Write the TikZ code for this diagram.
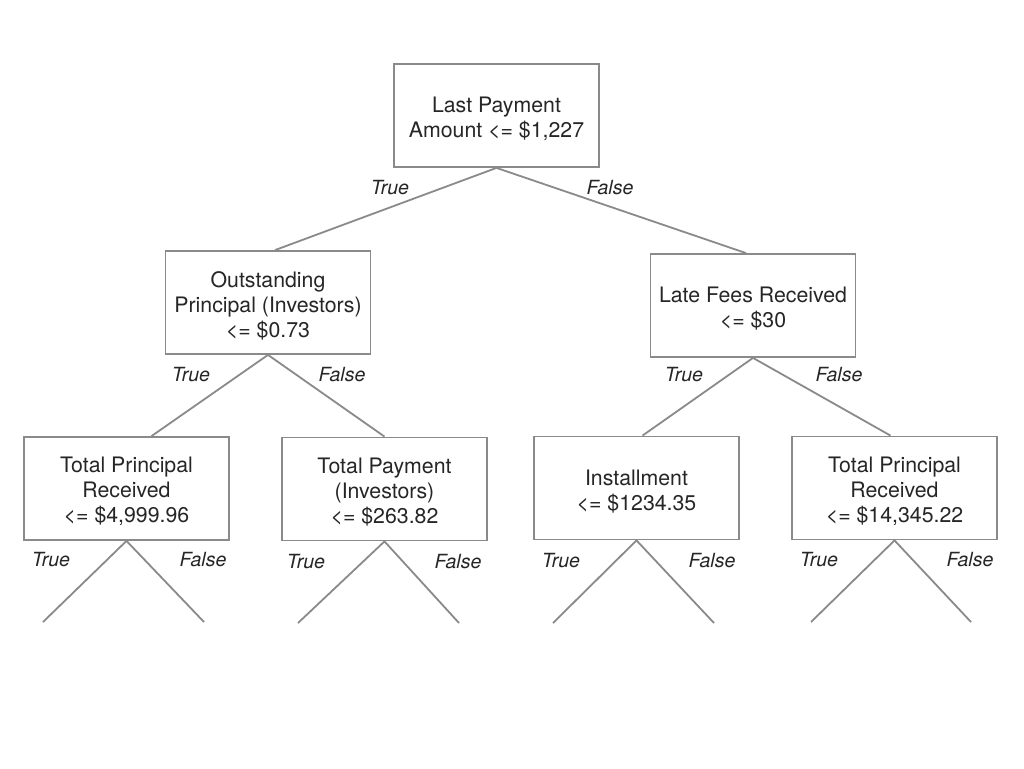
\documentclass[tikz,border=0pt]{standalone}
\usepackage{fontspec}
\setmainfont{TeX Gyre Heros}
\definecolor{linegray}{HTML}{8A8A8A}
\newcommand\topfix{\rule{0pt}{22pt}}
\begin{document}
\begin{tikzpicture}[x=1pt,y=-1pt,
  treebox/.style={draw=linegray,line width=1.8pt,minimum width=205pt,minimum height=103pt,
    align=center,inner sep=0pt,font=\fontsize{21.3}{25}\selectfont,text=black!85},
  branch/.style={draw=linegray,line width=1.8pt},
  lbl/.style={font=\fontsize{19.5}{22}\selectfont\itshape,text=black!85,inner sep=0pt}]
\useasboundingbox (0,0) rectangle (1024,768);
\fill[white] (0,0) rectangle (1024,768);
% boxes
\node[treebox] (root) at (496.5,115.5) {\topfix Last Payment\\Amount <= \$1,227};
\node[treebox] (lm) at (268,302.5) {\topfix Outstanding\\Principal (Investors)\\<= \$0.73};
\node[treebox] (rm) at (753,305.5) {\topfix Late Fees Received\\<= \$30};
\node[treebox] (b1) at (126.5,488.5) {\topfix Total Principal\\Received\\<= \$4,999.96};
\node[treebox] (b2) at (384.5,489) {\topfix Total Payment\\(Investors)\\<= \$263.82};
\node[treebox] (b3) at (636.5,488) {\topfix Installment\\<= \$1234.35};
\node[treebox] (b4) at (894.5,488) {\topfix Total Principal\\Received\\<= \$14,345.22};
% connectors
\draw[branch] (root.south) -- ([xshift=7pt]lm.north);
\draw[branch] (root.south) -- ([xshift=-7pt]rm.north);
\draw[branch] (lm.south) -- ([xshift=25pt]b1.north);
\draw[branch] (lm.south) -- (b2.north);
\draw[branch] (rm.south) -- ([xshift=6pt]b3.north);
\draw[branch] (rm.south) -- ([xshift=-4pt]b4.north);
% leaf ends
\coordinate (l1a) at (43,622); \coordinate (l1b) at (204,622);
\coordinate (l2a) at (298,623); \coordinate (l2b) at (459,623);
\coordinate (l3a) at (553,623); \coordinate (l3b) at (714,623);
\coordinate (l4a) at (811,622); \coordinate (l4b) at (971,622);
\draw[branch] (l1a) -- (b1.south) -- (l1b);
\draw[branch] (l2a) -- (b2.south) -- (l2b);
\draw[branch] (l3a) -- (b3.south) -- (l3b);
\draw[branch] (l4a) -- (b4.south) -- (l4b);
% labels
\node[lbl] (t0) at (390,188) {True};
\node[lbl] (f0) at (610,188) {False};
\node[lbl] (t1) at (191,375) {True};
\node[lbl] (f1) at (342,375) {False};
\node[lbl] (t2) at (684,375) {True};
\node[lbl] (f2) at (839,375) {False};
\node[lbl] (t3) at (51,560) {True};
\node[lbl] (f3) at (203,560) {False};
\node[lbl] (t4) at (306,562) {True};
\node[lbl] (f4) at (458,562) {False};
\node[lbl] (t5) at (561,561) {True};
\node[lbl] (f5) at (712,561) {False};
\node[lbl] (t6) at (819,560) {True};
\node[lbl] (f6) at (970,560) {False};
\end{tikzpicture}
\end{document}
